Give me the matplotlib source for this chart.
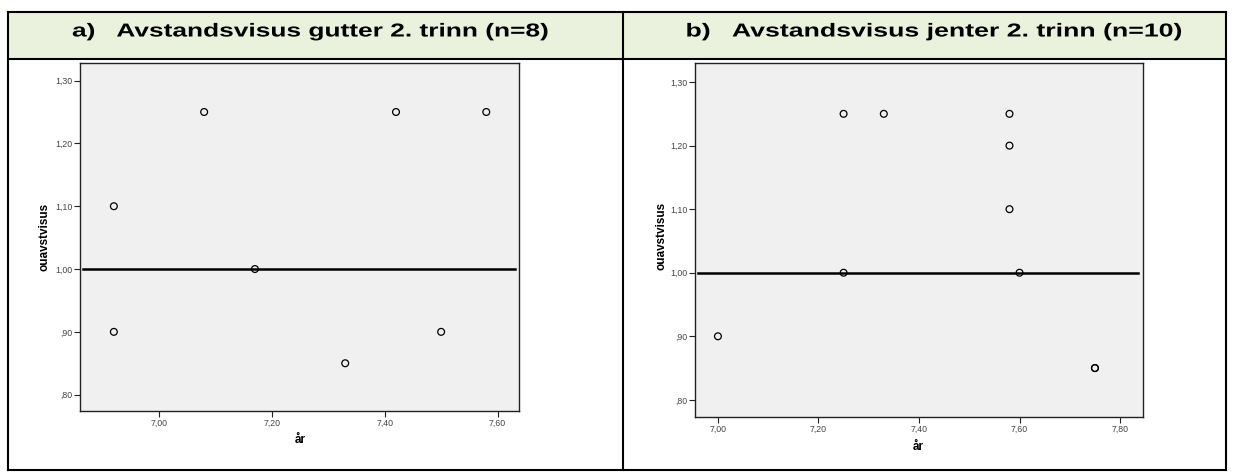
import matplotlib
matplotlib.use("Agg")
import matplotlib.pyplot as plt
import matplotlib.patheffects as pe
from matplotlib.patches import Rectangle
from matplotlib.lines import Line2D
from matplotlib.ticker import FuncFormatter
from matplotlib.transforms import Affine2D

plt.rcParams['font.family'] = ['Liberation Sans', 'DejaVu Sans']

# boys, 2nd grade
boys_age = [6.92, 6.92, 7.08, 7.17, 7.33, 7.42, 7.50, 7.58]
boys_visus = [1.10, 0.90, 1.25, 1.00, 0.85, 1.25, 0.90, 1.25]

# girls, 2nd grade
girls_age = [7.00, 7.25, 7.33, 7.25, 7.58, 7.58, 7.58, 7.60, 7.75, 7.75]
girls_visus = [0.90, 1.25, 1.25, 1.00, 1.25, 1.20, 1.10, 1.00, 0.85, 0.85]

titles = ["a)   Avstandsvisus gutter 2. trinn (n=8)",
          "b)   Avstandsvisus jenter 2. trinn (n=10)"]
y_ticks = [0.80, 0.90, 1.00, 1.10, 1.20, 1.30]
boys_xticks = [7.00, 7.20, 7.40, 7.60]
girls_xticks = [7.00, 7.20, 7.40, 7.60, 7.80]

W, H = 1233, 475
fig = plt.figure(figsize=(W / 100, H / 100), dpi=100)


def fx(px):
    return px / W


def fy(py):
    return 1 - py / H


class StretchX(pe.AbstractPathEffect):
    """Widen glyphs horizontally around a fixed x (pixels)."""

    def __init__(self, sx, cx):
        super().__init__()
        self.sx = sx
        self.cx = cx

    def draw_path(self, renderer, gc, tpath, affine, rgbFace=None):
        stretch = Affine2D().translate(-self.cx, 0).scale(self.sx, 1).translate(self.cx, 0)
        renderer.draw_path(gc, tpath, affine + stretch, rgbFace)


# table frame with the green header row
left, mid, right = 8, 623, 1226
top, head, bottom = 12, 59, 470
fig.add_artist(Rectangle((fx(left), fy(head)), fx(right - left), (head - top) / H,
                         transform=fig.transFigure, facecolor='#eaf1dd',
                         edgecolor='none', zorder=0))
for x0, y0, x1, y1 in [(left, top, right, top), (left, head, right, head),
                       (left, bottom, right, bottom), (left, top, left, bottom),
                       (mid, top, mid, bottom), (right, top, right, bottom)]:
    fig.add_artist(Line2D([fx(x0), fx(x1)], [fy(y0), fy(y1)], color='black',
                          lw=1.5, transform=fig.transFigure))

# header titles, widened to fill the cells like the original heading style
title_centers = [309.5, 933]
title_widths = [475, 495]
fig.canvas.draw()
renderer = fig.canvas.get_renderer()
for txt, cx, tw in zip(titles, title_centers, title_widths):
    t = fig.text(fx(cx), fy(36.5), txt, ha='center', va='baseline',
                 fontsize=13.5, fontweight='bold')
    w = t.get_window_extent(renderer).width
    t.set_path_effects([StretchX(tw / w, cx)])


def fmt(v, pos):
    s = "%.2f" % v
    if s.startswith("0"):
        s = s[1:]
    return s.replace(".", ",")


def scatter_panel(rect, ages, visus, xticks, xlim, ylim, xlabel_pos, ylabel_pos):
    ax = fig.add_axes(rect)
    ax.set_facecolor('#f0f0f0')
    ax.scatter(ages, visus, s=24, facecolors='none', edgecolors='black',
               linewidths=0.9, zorder=3)
    ax.axhline(1.0, xmin=0.006, xmax=0.99, color='black', lw=1.8, zorder=2)
    ax.set_xlim(xlim)
    ax.set_ylim(ylim)
    ax.set_xticks(xticks)
    ax.set_yticks(y_ticks)
    ax.xaxis.set_major_formatter(FuncFormatter(fmt))
    ax.yaxis.set_major_formatter(FuncFormatter(fmt))
    ax.tick_params(labelsize=6.3, length=4, width=0.8, colors='#222222',
                   labelcolor='#444444', pad=1.5)
    for sp in ax.spines.values():
        sp.set_linewidth(1.0)
        sp.set_color('#222222')
    fig.text(fx(xlabel_pos[0]), fy(xlabel_pos[1]), "år", ha='center',
             va='center', fontsize=8.5, fontweight='bold')
    fig.text(fx(ylabel_pos[0]), fy(ylabel_pos[1]), "ouavstvisus", ha='center',
             va='center', rotation=90, fontsize=8.5, fontweight='bold')
    return ax


scatter_panel([fx(80), fy(411), fx(439), 348 / H], boys_age, boys_visus,
              boys_xticks, (6.860, 7.638), (0.774, 1.328), (300, 440), (45, 237))
scatter_panel([fx(695.3), fy(417), fx(447.4), 354 / H], girls_age, girls_visus,
              girls_xticks, (6.955, 7.845), (0.773, 1.330), (918, 447), (661, 236))

fig.savefig("out.png", dpi=100)
